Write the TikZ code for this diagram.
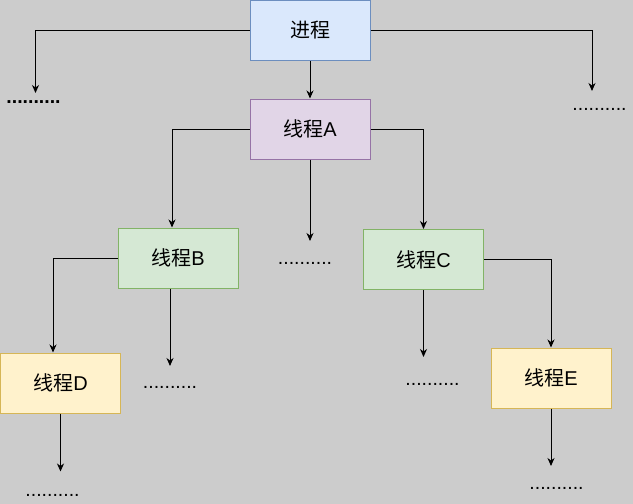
\documentclass[tikz,border=0pt]{standalone}
\usepackage{fontspec}
\setmainfont{Liberation Sans}
\newfontfamily\cjk{Noto Sans CJK SC}
\usetikzlibrary{arrows.meta}
\definecolor{bggray}{HTML}{CCCCCC}
\definecolor{bluefill}{HTML}{DAE8FC}\definecolor{blueline}{HTML}{6C8EBF}
\definecolor{purpfill}{HTML}{E1D5E7}\definecolor{purpline}{HTML}{9673A6}
\definecolor{greenfill}{HTML}{D5E8D4}\definecolor{greenline}{HTML}{82B366}
\definecolor{yelfill}{HTML}{FFF2CC}\definecolor{yelline}{HTML}{D6B656}
\begin{document}
\begin{tikzpicture}[x=1pt,y=-1pt,
  box/.style={draw, line width=1pt, minimum width=120pt, minimum height=60pt, inner sep=0pt,
    font=\fontsize{20}{23}\selectfont},
  procbox/.style={box, fill=bluefill, draw=blueline},
  abox/.style={box, fill=purpfill, draw=purpline},
  gbox/.style={box, fill=greenfill, draw=greenline},
  ybox/.style={box, fill=yelfill, draw=yelline},
  conn/.style={draw=black, line width=1pt, -{Stealth[length=8pt,width=7pt,inset=2.5pt]}},
  dots/.style={anchor=base, inner sep=0pt, font=\fontsize{19.5}{22}\selectfont},
  bdots/.style={dots, font=\fontsize{19.5}{22}\selectfont\bfseries}
]
\fill[bggray] (0,0) rectangle (633,504);
\useasboundingbox (0,0) rectangle (633,504);

\node[procbox] (P) at (310,30.5) {\cjk 进程};
\node[abox] (A) at (310,129) {{\cjk 线程}A};
\node[gbox] (B) at (178,258) {{\cjk 线程}B};
\node[gbox] (C) at (423.5,259.5) {{\cjk 线程}C};
\node[ybox] (D) at (60.5,383) {{\cjk 线程}D};
\node[ybox] (E) at (551,378) {{\cjk 线程}E};

\coordinate (pl) at (35.5,93);
\coordinate (pr) at (592,91);
\coordinate (am) at (310,241);
\coordinate (bm) at (170,366);
\coordinate (cm) at (423.5,357);
\coordinate (dm) at (60.5,471.5);
\coordinate (em) at (551,466);

\node[bdots] (tpl) at (33.5,103.5) {..........};
\node[dots] (tpr) at (599.5,110) {..........};
\node[dots] (tam) at (305,264.5) {..........};
\node[dots] (tbm) at (170,388) {..........};
\node[dots] (tcm) at (432.5,385.5) {..........};
\node[dots] (tdm) at (52.5,496.5) {..........};
\node[dots] (tem) at (556.5,489.5) {..........};

\draw[conn] (P.west) -| (pl);
\draw[conn] (P.east) -| (pr);
\draw[conn] (P.south) -- (A.north);
\draw[conn] (A.west) -| ([xshift=-6pt]B.north);
\draw[conn] (A.south) -- (am);
\draw[conn] (A.east) -| (C.north);
\draw[conn] (B.west) -| ([xshift=-7.5pt]D.north);
\draw[conn] ([xshift=-8pt]B.south) -- (bm);
\draw[conn] (C.south) -- (cm);
\draw[conn] (C.east) -| (E.north);
\draw[conn] (D.south) -- (dm);
\draw[conn] (E.south) -- (em);
\end{tikzpicture}
\end{document}
